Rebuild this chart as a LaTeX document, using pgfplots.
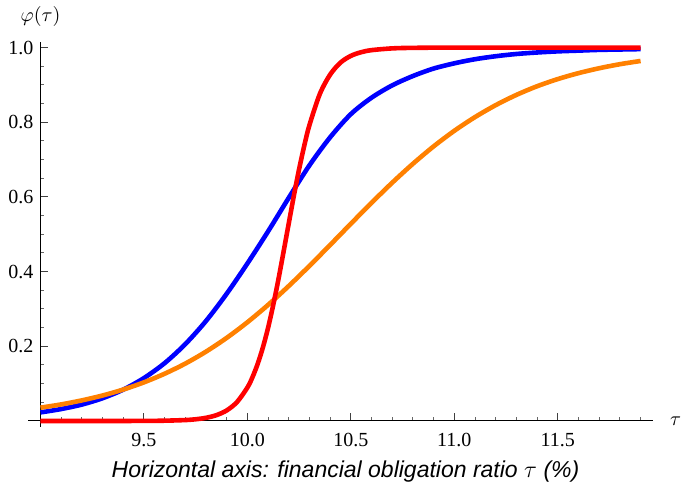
\documentclass[border=0pt]{standalone}
\usepackage{pgfplots}
\pgfplotsset{compat=1.18}
\usepackage{fontspec}
\setmainfont{Liberation Serif}
\setsansfont{Liberation Sans}
\definecolor{mred}{rgb}{1,0,0}
\definecolor{mblue}{rgb}{0,0,1}
\definecolor{morange}{rgb}{1,0.5,0}
\begin{document}
\begin{tikzpicture}
\begin{axis}[
  scale only axis,
  width=306.25pt, height=192.65pt,
  xmin=9, xmax=11.96, ymin=-0.016, ymax=1.016,
  axis lines=middle,
  axis line style={-, line width=0.5pt, black},
  clip=false,
  xtick={9.5,10,10.5,11,11.5},
  ytick={0.2,0.4,0.6,0.8,1.0},
  minor xtick={9.1,9.2,9.3,9.4,9.6,9.7,9.8,9.9,10.1,10.2,10.3,10.4,10.6,10.7,10.8,10.9,11.1,11.2,11.3,11.4,11.6,11.7,11.8,11.9},
  minor ytick={0.05,0.1,0.15,0.25,0.3,0.35,0.45,0.5,0.55,0.65,0.7,0.75,0.85,0.9,0.95},
  tick align=inside,
  major tick length=3.75pt,
  minor tick length=2pt,
  major tick style={black!75, line width=0.5pt},
  minor tick style={black!60, line width=0.5pt},
  tick label style={font=\rmfamily\fontsize{10}{12}\selectfont},
  /pgf/number format/.cd, fixed, fixed zerofill, precision=1, assume math mode=true,
  /pgfplots/.cd,
  xticklabel style={yshift=-2.5pt},
]
\addplot[mblue, line width=2.3pt, smooth] coordinates {
(9.0,0.023) (9.1,0.032) (9.2,0.044) (9.3,0.061) (9.4,0.084) (9.5,0.115)
(9.6,0.155) (9.7,0.206) (9.8,0.268) (9.9,0.341) (10.0,0.422) (10.1,0.508)
(10.2,0.598) (10.3,0.685) (10.4,0.760) (10.5,0.822) (10.6,0.866) (10.7,0.899)
(10.8,0.924) (10.9,0.944) (11.0,0.958) (11.1,0.969) (11.2,0.977) (11.3,0.983)
(11.4,0.987) (11.5,0.990) (11.6,0.992) (11.7,0.994) (11.8,0.995) (11.9,0.996)
};
\addplot[morange, line width=2.3pt, smooth] coordinates {
(9.0,0.0357) (9.1,0.0444) (9.2,0.0552) (9.3,0.0683) (9.4,0.0842) (9.5,0.1035)
(9.6,0.1266) (9.7,0.1538) (9.8,0.1858) (9.9,0.2227) (10.0,0.2645) (10.1,0.3110)
(10.2,0.3617) (10.3,0.4156) (10.4,0.4716) (10.5,0.5284) (10.6,0.5844) (10.7,0.6384)
(10.8,0.6890) (10.9,0.7356) (11.0,0.7773) (11.1,0.8140) (11.2,0.8460) (11.3,0.8734)
(11.4,0.8966) (11.5,0.9158) (11.6,0.9317) (11.7,0.9448) (11.8,0.9556) (11.9,0.9643)
};
\addplot[mred, line width=2.3pt, smooth] coordinates {
(9.0,0.0000) (9.3,0.0000) (9.5,0.0002) (9.6,0.0008) (9.7,0.0025) (9.75,0.0046)
(9.8,0.0085) (9.85,0.0156) (9.9,0.0283) (9.95,0.0509) (10.0,0.0897) (10.025,0.118)
(10.05,0.1536) (10.075,0.1975) (10.1,0.250) (10.125,0.3115) (10.15,0.380) (10.175,0.4544)
(10.2,0.530) (10.225,0.605) (10.25,0.675) (10.275,0.738) (10.3,0.793) (10.35,0.876)
(10.4,0.928) (10.45,0.960) (10.5,0.978) (10.55,0.9878) (10.6,0.9933) (10.7,0.998)
(10.8,0.9994) (11.0,1.0) (11.9,1.0)
};
\draw[line width=0.5pt] (axis cs:8.94,0) -- (axis cs:9,0);
\coordinate (O) at (axis cs:9,0);
\node[anchor=base] at (axis cs:9,1.016) [yshift=10pt] {$\varphi(\tau)$};
\node[anchor=west] at (axis cs:11.96,0) [xshift=5pt] {$\tau$};
\node[anchor=base, font=\sffamily\itshape\fontsize{11.5}{13}\selectfont] at (axis cs:10.474,0) [yshift=-28.5pt] {Horizontal axis: financial obligation ratio $\tau$ (\%)};
\end{axis}
\pgfresetboundingbox
\path[use as bounding box] ([shift={(-20.25pt,-32pt)}]O) rectangle ([shift={(320.75pt,210.5pt)}]O);
\end{tikzpicture}
\end{document}
